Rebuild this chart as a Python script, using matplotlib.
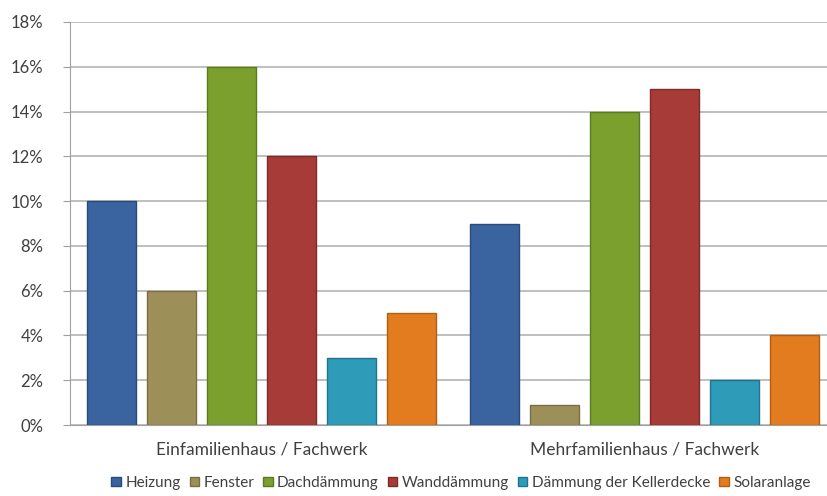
import matplotlib
matplotlib.use("Agg")
import matplotlib.pyplot as plt
from matplotlib.ticker import FuncFormatter
import numpy as np

plt.rcParams['font.family'] = ['Lato', 'DejaVu Sans']

categories = ["Einfamilienhaus / Fachwerk", "Mehrfamilienhaus / Fachwerk"]
series = ["Heizung", "Fenster", "Dachdämmung", "Wanddämmung",
          "Dämmung der Kellerdecke", "Solaranlage"]
heizung = [10, 9]
fenster = [6, 0.9]
dachdaemmung = [16, 14]
wanddaemmung = [12, 15]
keller = [3, 2]
solar = [5, 4]
values = [heizung, fenster, dachdaemmung, wanddaemmung, keller, solar]
colors = ["#3A64A0", "#9C8F58", "#7BA02E", "#A63B38", "#2E9BB9", "#E27C1F"]
edges = ["#2A4A78", "#7A6F40", "#5C7A20", "#7E2A28", "#1F7590", "#B05E12"]
yticks = [0, 2, 4, 6, 8, 10, 12, 14, 16, 18]

fig = plt.figure(figsize=(8.28, 4.96), dpi=100)
ax = fig.add_axes([70/828, 1-425/496, (836-70)/828, (425-22)/496])

x = np.arange(len(categories))
step = 0.1566
width = 0.128
for i, (name, vals) in enumerate(zip(series, values)):
    ax.bar(x + (i - 2.5) * step, vals, width, color=colors[i],
           edgecolor=edges[i], linewidth=1.0, label=name, zorder=3)

ax.set_xlim(-0.5, 1.5)
ax.set_ylim(0, 18)
ax.set_yticks(yticks)
ax.yaxis.set_major_formatter(FuncFormatter(lambda v, p: f"{int(v)}%"))
ax.set_xticks(x)
ax.set_xticklabels(categories, fontsize=12.5, color="#404040")
ax.tick_params(axis='x', length=0, pad=12)
ax.tick_params(axis='y', length=5, color="#A0A0A0", labelsize=12,
               labelcolor="#404040", pad=14)
ax.grid(axis='y', color="#B4B4B4", linewidth=1.2, zorder=0)
for s in ['top', 'right']:
    ax.spines[s].set_visible(False)
ax.spines['left'].set_color("#A0A0A0")
ax.spines['bottom'].set_color("#A0A0A0")

fig.legend(loc='center', bbox_to_anchor=(461/828, 1-483/496), ncol=6,
           frameon=False, fontsize=11, handlelength=0.6, handleheight=0.6,
           handletextpad=0.3, columnspacing=0.6, labelcolor="#404040")

fig.savefig("out.png", dpi=100)
